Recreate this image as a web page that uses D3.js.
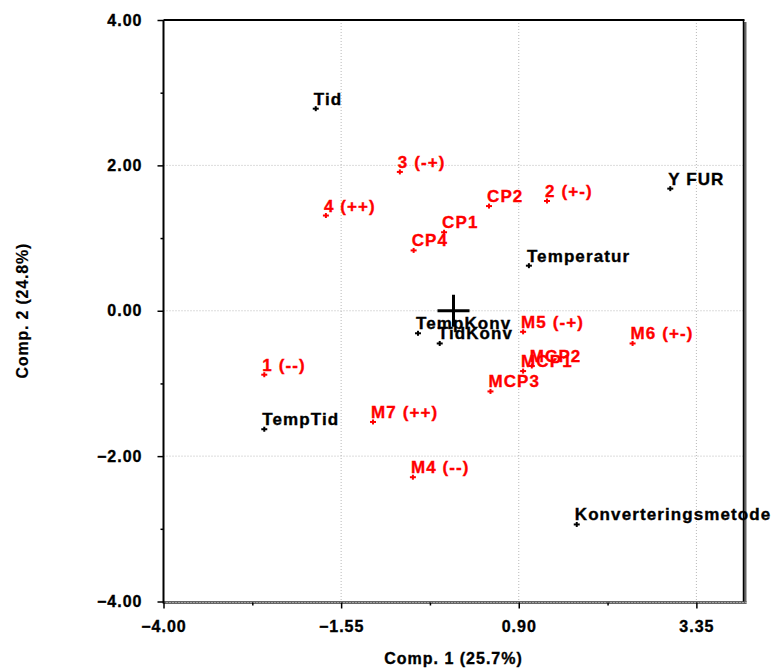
<!DOCTYPE html>
<html>
<head>
<meta charset="utf-8">
<script src="https://cdn.jsdelivr.net/npm/d3@7"></script>
<style>
  html, body { margin: 0; padding: 0; background: #fff; }
  svg { display: block; }
  text { font-family: "Liberation Sans", Arial, sans-serif; font-weight: bold; }
</style>
</head>
<body>
<svg id="chart" width="774" height="669"></svg>
<script>
// Variable loadings (black)
const varNames = ["Tid", "Y FUR", "Temperatur", "TempKonv", "TidKonv", "TempTid", "Konverteringsmetode"];
const varX = [-1.90, 2.99, 1.04, -0.49, -0.19, -2.61, 1.70];
const varY = [2.78, 1.68, 0.62, -0.31, -0.45, -1.63, -2.94];

// Sample scores (red)
const obsNames = ["3 (-+)", "4 (++)", "CP2", "2 (+-)", "CP1", "CP4", "M5 (-+)", "M6 (+-)", "MCP2", "MCP1", "MCP3", "1 (--)", "M7 (++)", "M4 (--)"];
const obsX = [-0.74, -1.76, 0.49, 1.29, -0.13, -0.55, 0.96, 2.47, 1.08, 0.96, 0.51, -2.61, -1.11, -0.56];
const obsY = [1.91, 1.31, 1.44, 1.51, 1.08, 0.83, -0.29, -0.45, -0.76, -0.83, -1.11, -0.88, -1.53, -2.29];

// Axis ticks
const xTicks = [-4.00, -1.55, 0.90, 3.35];
const xMinor = [-2.775, -0.325, 2.125];
const yTicks = [4.00, 2.00, 0.00, -2.00, -4.00];
const yMinor = [3, 1, -1, -3];
const xTitle = "Comp. 1 (25.7%)";
const yTitle = "Comp. 2 (24.8%)";

const svg = d3.select("#chart");
const pL = 163.5, pR = 743.5, pT = 20, pB = 601.5;
const x = d3.scaleLinear().domain([-4, 4]).range([pL, pR]);
const y = d3.scaleLinear().domain([-4, 4]).range([pB, pT]);
const fmt = d3.format(".2f");

// Dotted grid at the major ticks inside the plot
const grid = svg.append("g");
xTicks.filter(v => v > -4).forEach(v => {
  grid.append("line").attr("x1", x(v)).attr("x2", x(v)).attr("y1", pT).attr("y2", pB)
    .attr("stroke", "#b8b8b8").attr("stroke-width", 1).attr("stroke-dasharray", "1,2");
});
yTicks.filter(v => v > -4 && v < 4).forEach(v => {
  grid.append("line").attr("x1", pL).attr("x2", pR).attr("y1", y(v)).attr("y2", y(v))
    .attr("stroke", "#b8b8b8").attr("stroke-width", 1).attr("stroke-dasharray", "1,2");
});

// Plot frame: shaded right and bottom edges
svg.append("line").attr("x1", pR + 1.5).attr("x2", pR + 1.5).attr("y1", pT + 2).attr("y2", pB + 2)
  .attr("stroke", "#666").attr("stroke-width", 3);
svg.append("line").attr("x1", pL).attr("x2", pR + 3).attr("y1", pB + 1).attr("y2", pB + 1)
  .attr("stroke", "#666").attr("stroke-width", 3);
svg.append("line").attr("x1", pL).attr("x2", pR + 3).attr("y1", pB + 1).attr("y2", pB + 1)
  .attr("stroke", "#ddd").attr("stroke-width", 1).attr("stroke-dasharray", "1,2");
svg.append("line").attr("x1", pL).attr("x2", pR + 1).attr("y1", pT).attr("y2", pT)
  .attr("stroke", "#000").attr("stroke-width", 2);
svg.append("line").attr("x1", pR).attr("x2", pR).attr("y1", pT).attr("y2", pB)
  .attr("stroke", "#000").attr("stroke-width", 1.5);
svg.append("line").attr("x1", pL).attr("x2", pL).attr("y1", pT).attr("y2", pB + 2)
  .attr("stroke", "#000").attr("stroke-width", 2);

// Axes
const xAxis = d3.axisBottom(x).tickValues(xTicks).tickFormat(fmt).tickSize(6).tickPadding(12);
const gx = svg.append("g").attr("transform", `translate(0,${pB + 1})`).call(xAxis);
gx.select(".domain").remove();
gx.selectAll(".tick line").attr("stroke", "#000").attr("stroke-width", 1.5);
gx.selectAll(".tick text").attr("font-size", 16).attr("letter-spacing", "1px")
  .attr("fill", "#000").attr("stroke", "#000").attr("stroke-width", 0.35);

const xMin = d3.axisBottom(x).tickValues(xMinor).tickFormat("").tickSize(3);
const gxm = svg.append("g").attr("transform", `translate(0,${pB + 1})`).call(xMin);
gxm.select(".domain").remove();
gxm.selectAll(".tick line").attr("stroke", "#000").attr("stroke-width", 1.5);

const yAxis = d3.axisLeft(y).tickValues(yTicks).tickFormat(fmt).tickSize(6).tickPadding(15);
const gy = svg.append("g").attr("transform", `translate(${pL},0)`).call(yAxis);
gy.select(".domain").remove();
gy.selectAll(".tick line").attr("stroke", "#000").attr("stroke-width", 1.5);
gy.selectAll(".tick text").attr("font-size", 16).attr("letter-spacing", "1px")
  .attr("fill", "#000").attr("stroke", "#000").attr("stroke-width", 0.35);

const yMin = d3.axisLeft(y).tickValues(yMinor).tickFormat("").tickSize(3);
const gym = svg.append("g").attr("transform", `translate(${pL},0)`).call(yMin);
gym.select(".domain").remove();
gym.selectAll(".tick line").attr("stroke", "#000").attr("stroke-width", 1.5);

// Axis titles
svg.append("text").attr("x", (pL + pR) / 2).attr("y", 664).attr("text-anchor", "middle")
  .attr("font-size", 16).attr("letter-spacing", "1px")
  .attr("stroke", "#000").attr("stroke-width", 0.35).text(xTitle);
svg.append("text").attr("transform", `translate(28,${(pT + pB) / 2}) rotate(-90)`)
  .attr("text-anchor", "middle").attr("font-size", 16).attr("letter-spacing", "0.8px")
  .attr("stroke", "#000").attr("stroke-width", 0.2).text(yTitle);

// Origin cross
svg.append("line").attr("x1", x(0) - 16).attr("x2", x(0) + 16).attr("y1", y(0)).attr("y2", y(0))
  .attr("stroke", "#000").attr("stroke-width", 3);
svg.append("line").attr("x1", x(0)).attr("x2", x(0)).attr("y1", y(0) - 16).attr("y2", y(0) + 16)
  .attr("stroke", "#000").attr("stroke-width", 3);

// Small "+" markers with labels
function drawSet(names, xs, ys, color) {
  const g = svg.append("g");
  names.forEach((n, i) => {
    const px = x(xs[i]), py = y(ys[i]);
    g.append("line").attr("x1", px - 3).attr("x2", px + 3).attr("y1", py).attr("y2", py)
      .attr("stroke", color).attr("stroke-width", 2);
    g.append("line").attr("x1", px).attr("x2", px).attr("y1", py - 2.5).attr("y2", py + 2.5)
      .attr("stroke", color).attr("stroke-width", 2);
    g.append("text").attr("x", px - 2).attr("y", py - 4)
      .attr("font-size", 17).attr("letter-spacing", "1.1px").attr("fill", color)
      .attr("stroke", color).attr("stroke-width", 0.35).text(n);
  });
}
drawSet(varNames, varX, varY, "#000");
drawSet(obsNames, obsX, obsY, "#ff0000");
</script>
</body>
</html>
